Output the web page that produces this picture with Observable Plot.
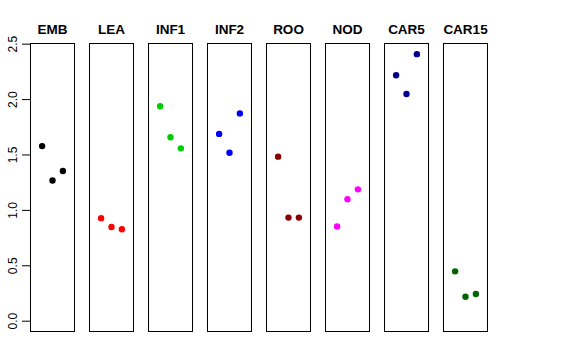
<!DOCTYPE html>
<html>
<head>
<meta charset="utf-8">
<script src="https://cdn.jsdelivr.net/npm/d3@7"></script>
<script src="https://cdn.jsdelivr.net/npm/@observablehq/plot@0.6"></script>
<style>
  body { margin: 0; background: #fff; }
</style>
</head>
<body>
<div id="chart"></div>
<script>
const categories = ["EMB", "LEA", "INF1", "INF2", "ROO", "NOD", "CAR5", "CAR15"];
const replicates = [1, 2, 3];
const valuesEMB = [1.58, 1.27, 1.355];
const valuesLEA = [0.93, 0.85, 0.83];
const valuesINF1 = [1.94, 1.66, 1.56];
const valuesINF2 = [1.69, 1.52, 1.875];
const valuesROO = [1.485, 0.935, 0.935];
const valuesNOD = [0.855, 1.10, 1.19];
const valuesCAR5 = [2.22, 2.05, 2.41];
const valuesCAR15 = [0.45, 0.22, 0.245];
const colors = ["#000000", "#FF0000", "#00CD00", "#0000FF", "#8B0000", "#FF00FF", "#00008B", "#006400"];
const yTicks = [0, 0.5, 1, 1.5, 2, 2.5];

const allValues = [valuesEMB, valuesLEA, valuesINF1, valuesINF2, valuesROO, valuesNOD, valuesCAR5, valuesCAR15];
const data = [];
categories.forEach((c, ci) => {
  allValues[ci].forEach((v, i) => {
    data.push({cat: c, rep: replicates[i], value: v, color: colors[ci]});
  });
});

const chart = Plot.plot({
  width: 576,
  height: 360,
  marginLeft: 29,
  marginRight: 88,
  marginTop: 43,
  marginBottom: 29,
  style: {fontFamily: "'Liberation Sans', Arial, Helvetica, sans-serif", fontSize: "12px", background: "#fff"},
  fx: {domain: categories, paddingInner: 0.25, paddingOuter: 0, axis: null, label: null},
  x: {domain: [-0.12, 4.12], axis: null, label: null},
  y: {domain: [-0.093, 2.506], axis: null, label: null},
  marks: [
    Plot.frame({stroke: "#000", strokeWidth: 1}),
    Plot.dot(data, {fx: "cat", x: "rep", y: "value", fill: "color", r: 3.2, stroke: null}),
    Plot.text(categories, {fx: d => d, text: d => d, frameAnchor: "top", lineAnchor: "middle", dy: -14, fontWeight: "bold", fontSize: 13.5, fill: "#000"}),
    Plot.axisY(yTicks, {anchor: "left", label: null, tickSize: 8, tickPadding: 6, tickRotate: -90, tickFormat: d3.format(".1f"), fontSize: 12, stroke: "#000", fill: "#000"})
  ]
});
document.getElementById("chart").appendChild(chart);
</script>
</body>
</html>
